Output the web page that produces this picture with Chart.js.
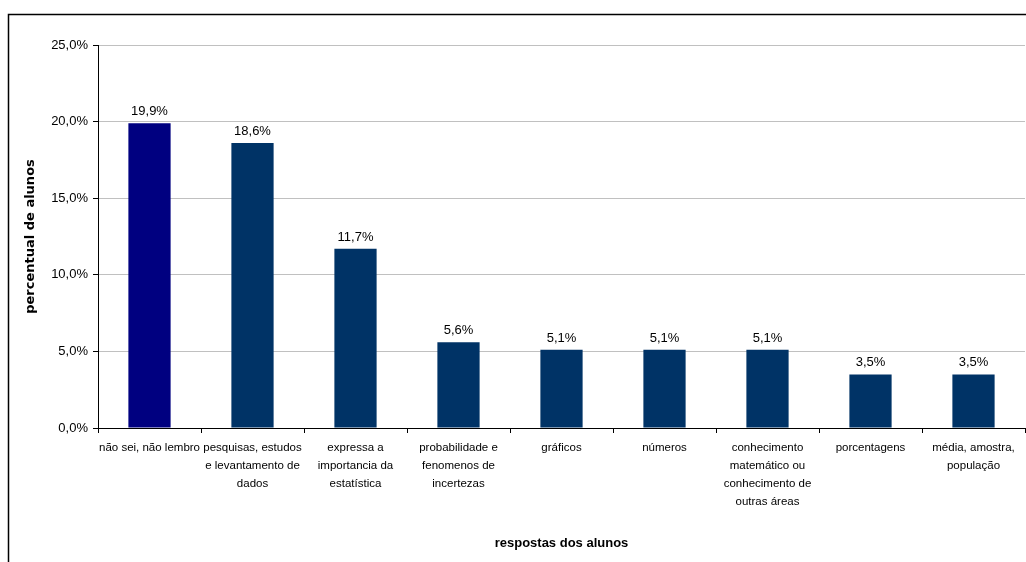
<!DOCTYPE html>
<html>
<head>
<meta charset="utf-8">
<script src="https://cdn.jsdelivr.net/npm/chart.js@4"></script>
<style>
  html, body { margin: 0; padding: 0; background: #fff; }
  #wrap { position: relative; width: 1026px; height: 562px; }
</style>
</head>
<body>
<div id="wrap"><canvas id="chart"></canvas></div>
<script>
// ── data ──────────────────────────────────────────────────
const categories = [
  'não sei, não lembro',
  ['pesquisas, estudos', 'e levantamento de', 'dados'],
  ['expressa a', 'importancia da', 'estatística'],
  ['probabilidade e', 'fenomenos de', 'incertezas'],
  'gráficos',
  'números',
  ['conhecimento', 'matemático ou', 'conhecimento de', 'outras áreas'],
  'porcentagens',
  ['média, amostra,', 'população'],
];
const values = [19.9, 18.6, 11.7, 5.6, 5.1, 5.1, 5.1, 3.5, 3.5];
const barColors = ['#000080', '#003366', '#003366', '#003366', '#003366', '#003366', '#003366', '#003366', '#003366'];
const yTicks = [0, 5, 10, 15, 20, 25];

const SANS = "'Liberation Sans', Arial, sans-serif";
const pct = v => v.toFixed(1).replace('.', ',') + '%';

// value labels above bars + outer frame
const extras = {
  id: 'extras',
  afterDatasetsDraw(chart) {
    const ctx = chart.ctx;
    const meta = chart.getDatasetMeta(0);
    ctx.save();
    ctx.font = '13px ' + SANS;
    ctx.fillStyle = '#000';
    ctx.textAlign = 'center';
    ctx.textBaseline = 'alphabetic';
    meta.data.forEach((bar, i) => {
      ctx.fillText(pct(values[i]), bar.x, bar.y - 8);
    });
    ctx.restore();
  },
  afterDraw(chart) {
    const ctx = chart.ctx;
    ctx.save();
    ctx.strokeStyle = '#000';
    ctx.lineWidth = 1.5;
    ctx.beginPath();
    ctx.moveTo(8.5, 562);
    ctx.lineTo(8.5, 14.5);
    ctx.lineTo(1026, 14.5);
    ctx.stroke();
    ctx.restore();
  },
};

new Chart(document.getElementById('chart'), {
  type: 'bar',
  data: {
    labels: categories,
    datasets: [{
      data: values,
      backgroundColor: barColors,
      borderWidth: 0,
      barPercentage: 0.41,
      categoryPercentage: 1,
    }],
  },
  options: {
    responsive: true,
    maintainAspectRatio: false,
    animation: false,
    layout: { padding: { top: 45, right: 1, bottom: 0, left: 0 } },
    plugins: { legend: { display: false }, tooltip: { enabled: false } },
    scales: {
      x: {
        afterFit: s => { s.height = 134; },
        border: { color: '#000', width: 1 },
        grid: { display: true, drawOnChartArea: false, tickLength: 5, tickColor: '#000', offset: true },
        ticks: {
          color: '#000', font: { size: 11.5, family: SANS, lineHeight: '18px' },
          maxRotation: 0, autoSkip: false, padding: 6,
        },
        title: {
          display: true, text: 'respostas dos alunos', color: '#000',
          font: { size: 13, weight: 'bold', family: SANS },
          padding: { top: 0, bottom: 11 },
        },
      },
      y: {
        min: 0, max: 25,
        afterFit: s => { s.width = 98; },
        afterBuildTicks: s => { s.ticks = yTicks.map(v => ({ value: v })); },
        border: { color: '#000', width: 1 },
        grid: { color: '#c0c0c0', tickColor: '#000', tickLength: 5 },
        ticks: {
          color: '#000', font: { size: 13, family: SANS }, padding: 5,
          callback: v => pct(v),
        },
        title: {
          display: true, text: 'percentual de alunos', color: '#000',
          font: { size: 13, weight: 'bold', family: "'DejaVu Sans', sans-serif" },
          padding: { top: 23, bottom: 0 },
        },
      },
    },
  },
  plugins: [extras],
});
</script>
</body>
</html>
